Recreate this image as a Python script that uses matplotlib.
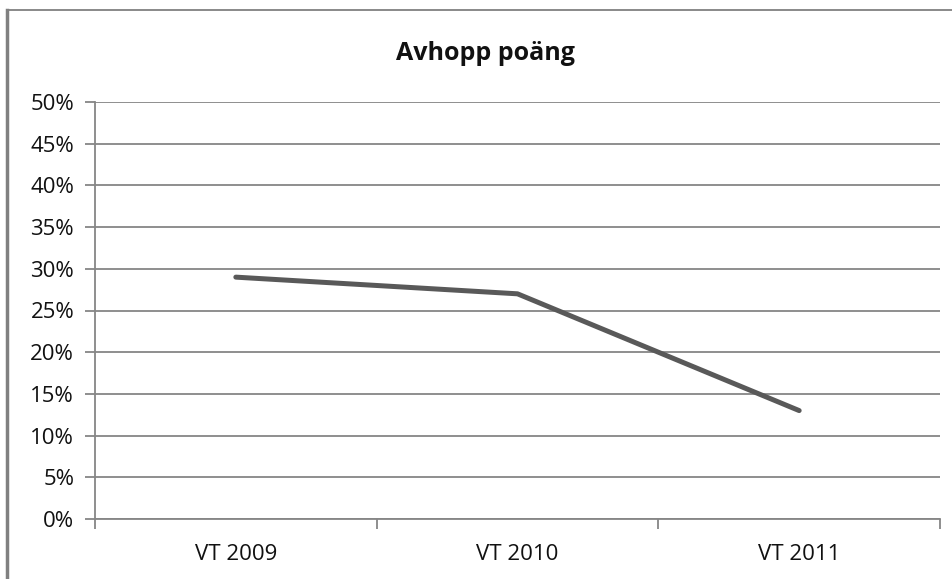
import matplotlib
matplotlib.use("Agg")
import matplotlib.pyplot as plt
from matplotlib.lines import Line2D
from matplotlib.ticker import FuncFormatter

categories = ["VT 2009", "VT 2010", "VT 2011"]
values = [29, 27, 13]
title = "Avhopp poäng"
yticks = list(range(0, 51, 5))

W, H = 953, 579
fig = plt.figure(figsize=(W / 100, H / 100), dpi=100)
fig.patch.set_facecolor("white")
plt.rcParams['font.family'] = ['Open Sans', 'DejaVu Sans']

ax = fig.add_axes([95 / W, 1 - 519 / H, (940 - 95) / W, (519 - 102) / H])
x = list(range(len(categories)))
ax.plot(x, values, color="#595959", lw=3.6, solid_capstyle="round", solid_joinstyle="round", zorder=3)

ax.set_xlim(-0.5, len(categories) - 0.5)
ax.set_ylim(0, 50)
ax.set_yticks(yticks)
ax.yaxis.set_major_formatter(FuncFormatter(lambda v, p: f"{int(v)}%"))
ax.set_xticks(x)
ax.set_xticklabels(categories)
ax.set_xticks([i - 0.5 for i in range(len(categories) + 1)], minor=True)
ax.tick_params(axis="x", which="major", length=0, pad=18, labelsize=16, labelcolor="#111111")
ax.tick_params(axis="x", which="minor", length=7, width=1.3, color="#868686")
ax.tick_params(axis="y", length=7, width=1.3, color="#868686", labelsize=16, labelcolor="#111111", pad=8)

ax.grid(axis="y", color="#868686", lw=1.3)
ax.set_axisbelow(True)
for s in ["top", "right"]:
    ax.spines[s].set_visible(False)
for s in ["left", "bottom"]:
    ax.spines[s].set_color("#868686")
    ax.spines[s].set_linewidth(1.3)

fig.text(485 / W, 1 - 53 / H, title, ha="center", va="center", fontsize=18, fontweight="bold", color="#111111")

# outer frame lines (left and top)
fig.add_artist(Line2D([7 / W, 7 / W], [0, 1 - 10 / H], transform=fig.transFigure, color="#808080", lw=2.5))
fig.add_artist(Line2D([7 / W, 1], [1 - 10 / H, 1 - 10 / H], transform=fig.transFigure, color="#808080", lw=1.3))

fig.savefig("out.png", dpi=100)
